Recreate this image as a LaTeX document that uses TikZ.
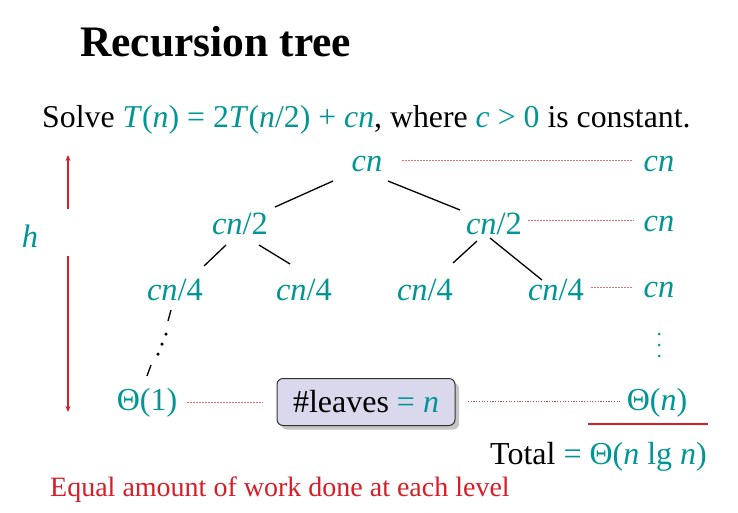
\documentclass[tikz,border=0pt]{standalone}
\usepackage{fontspec}
\setmainfont{Liberation Serif}
\usetikzlibrary{shadows,arrows.meta}
\definecolor{tl}{RGB}{0,150,150}
\definecolor{rd}{RGB}{215,30,40}
\definecolor{boxfill}{RGB}{218,216,236}
\begin{document}
\begin{tikzpicture}[x=1pt,y=-1pt,
  tnode/.style={text=tl,font=\fontsize{32.5}{32.5}\selectfont\itshape,inner sep=0pt},
  edge/.style={draw=black,line width=1.3pt},
  lvl/.style={draw=rd!65,line width=1pt,dash pattern=on 1.5pt off 1.5pt},
  dot/.style={circle,fill=black,inner sep=0pt,minimum size=3.5pt}]
\useasboundingbox (0,0) rectangle (738,512);
\fill[white] (0,0) rectangle (738,512);
% title
\node[anchor=base west,inner sep=0pt,font=\fontsize{43.5}{43.5}\selectfont\bfseries] (title) at (80,56) {Recursion tree};
\node[anchor=base west,inner sep=0pt,font=\fontsize{31.8}{31.8}\selectfont] (solve) at (42,127)
 {Solve \textcolor{tl}{\textit{T}(\textit{n}) = 2\textit{T}(\textit{n}/2) + \textit{cn}}, where \textcolor{tl}{\textit{c} > 0} is constant.};
% tree
\node[tnode] (r) at (367,164) {cn};
\node[tnode] (a) at (240,224) {cn\upshape/2};
\node[tnode] (b) at (494,224) {cn\upshape/2};
\node[tnode] (a1) at (175,290) {cn\upshape/4};
\node[tnode] (a2) at (304,290) {cn\upshape/4};
\node[tnode] (b1) at (425,290) {cn\upshape/4};
\node[tnode] (b2) at (556,290) {cn\upshape/4};
\node[tnode,font=\fontsize{32}{32}\selectfont] (l) at (147,403) {Θ(1)};
% right column
\node[tnode] (s1) at (659,164) {cn};
\node[tnode] (s2) at (659,224) {cn};
\node[tnode] (s3) at (659,290) {cn};
\node[tnode,font=\fontsize{32}{32}\selectfont] (s5) at (657,403) {Θ(\textit{n})};
\node[dot,minimum size=3pt,fill=tl] (v1) at (659,334) {};
\node[dot,minimum size=3pt,fill=tl] (v2) at (659,345) {};
\node[dot,minimum size=3pt,fill=tl] (v3) at (659,356) {};
% edges
\coordinate (r1) at (333,181); \coordinate (r1e) at (275,207);
\coordinate (r2) at (388,181); \coordinate (r2e) at (460,210);
\draw[edge] (r1) -- (r1e);
\draw[edge] (r2) -- (r2e);
\coordinate (e1) at (226,245); \coordinate (e1e) at (204,266);
\coordinate (e2) at (259,245); \coordinate (e2e) at (290,264);
\draw[edge] (e1) -- (e1e);
\draw[edge] (e2) -- (e2e);
\coordinate (e3) at (477,241); \coordinate (e3e) at (453,263);
\coordinate (e4) at (490,238); \coordinate (e4e) at (542,280);
\draw[edge] (e3) -- (e3e);
\draw[edge] (e4) -- (e4e);
\coordinate (d1) at (171,310); \coordinate (d1e) at (168,321);
\coordinate (d2) at (151,365); \coordinate (d2e) at (147,376);
\draw[edge] (d1) -- (d1e);
\draw[edge] (d2) -- (d2e);
\node[dot] (dd1) at (166,334) {};
\node[dot] (dd2) at (162,344) {};
\node[dot] (dd3) at (158,354) {};
% box
\node[draw=black!80,line width=1pt,rounded corners=6pt,fill=boxfill,
  drop shadow={shadow xshift=4pt,shadow yshift=-4pt,fill=black!45},
  minimum width=178pt,minimum height=47pt,inner sep=0pt,font=\fontsize{32}{32}\selectfont] (box) at (366,402)
  {\#leaves \textcolor{tl}{= \textit{n}}};
% dotted level lines
\coordinate (p1) at (402,160); \coordinate (p1e) at (633,160);
\draw[lvl] (p1) -- (p1e);
\coordinate (p2) at (528,220); \coordinate (p2e) at (634,220);
\draw[lvl] (p2) -- (p2e);
\coordinate (p3) at (591,287); \coordinate (p3e) at (633,287);
\draw[lvl] (p3) -- (p3e);
\coordinate (p4) at (187,402); \coordinate (p4e) at (263,402);
\draw[lvl] (p4) -- (p4e);
\coordinate (p5) at (468,401); \coordinate (p5e) at (620,401);
\draw[draw=rd!50!black!70,line width=0.7pt,dash pattern=on 1.2pt off 1.5pt] (p5) -- (p5e);
% total
\coordinate (u1) at (588,424); \coordinate (u2) at (708,424);
\draw[rd,line width=2pt] (u1) -- (u2);
\node[anchor=base west,inner sep=0pt,font=\fontsize{32}{32}\selectfont] (total) at (490,464)
 {Total \textcolor{tl}{= Θ(\textit{n} lg \textit{n})}};
% h arrow
\node[tnode] (h) at (30,236) {h};
\coordinate (ha) at (68,155); \coordinate (hb) at (68,209);
\coordinate (hc) at (68,256); \coordinate (hd) at (68,412);
\draw[rd,line width=1.2pt,-{Stealth[length=6pt,width=5pt]}] (hb) -- (ha);
\draw[rd,line width=1.2pt,-{Stealth[length=6pt,width=5pt]}] (hc) -- (hd);
% bottom note
\node[anchor=base west,inner sep=0pt,text=rd,font=\fontsize{28}{28}\selectfont] (note) at (50,496)
 {Equal amount of work done at each level};
\end{tikzpicture}
\end{document}
